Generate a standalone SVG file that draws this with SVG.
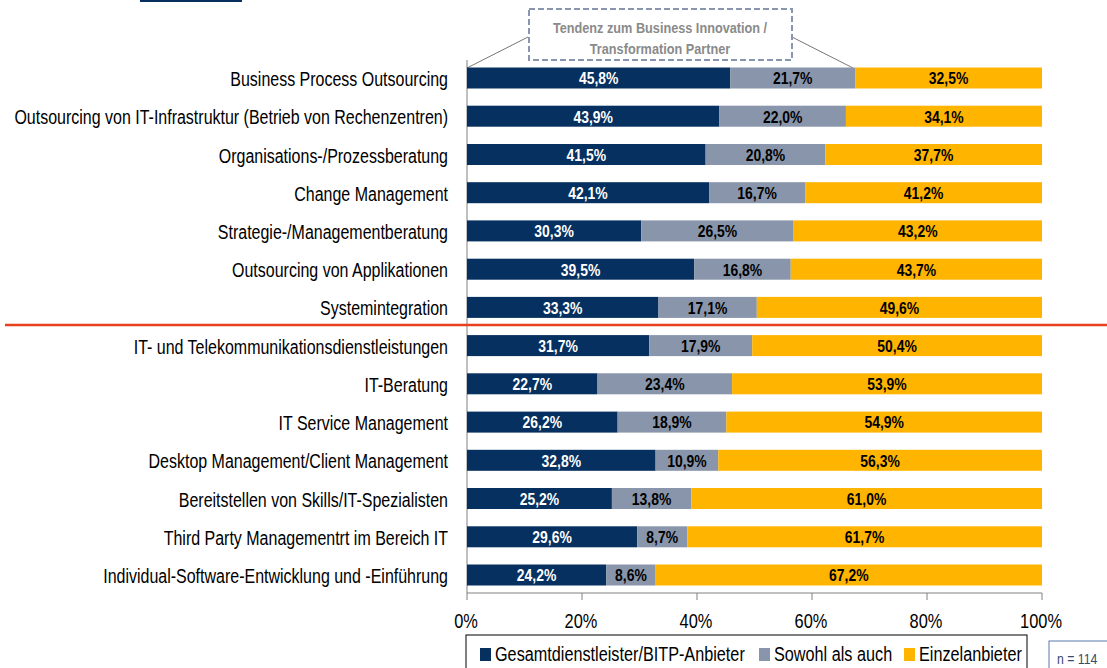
<svg xmlns="http://www.w3.org/2000/svg" width="1107" height="668" viewBox="0 0 1107 668">
<style>
text{font-family:"Liberation Sans Narrow","Arial Narrow","Liberation Sans",Arial,sans-serif}
.lbl{font-size:19.5px;fill:#000;text-anchor:end}
.val{font-size:17px;font-weight:bold;text-anchor:middle}
.w{fill:#fff}.k{fill:#000}
.d{fill:#06305f}.g{fill:#8895aa}.y{fill:#ffb400}
.tick{font-size:20px;fill:#000;text-anchor:middle}
.leg{font-size:19.8px;fill:#000}
.call{font-size:15.5px;font-weight:bold;fill:#8a8a8a;text-anchor:middle}
</style>
<rect x="140" y="0" width="102" height="2" fill="#06305f"/>
<g id="axes" stroke="#808080" stroke-width="1">
<line x1="467" y1="60" x2="467" y2="593"/>
<line x1="467" y1="593" x2="1042" y2="593"/>
<line x1="467" y1="593" x2="467" y2="600"/>
<line x1="582" y1="593" x2="582" y2="600"/>
<line x1="697" y1="593" x2="697" y2="600"/>
<line x1="812" y1="593" x2="812" y2="600"/>
<line x1="927" y1="593" x2="927" y2="600"/>
<line x1="1042" y1="593" x2="1042" y2="600"/>
</g>
<g id="ticks">
<text class="tick" transform="translate(466 628) scale(0.82 1)">0%</text>
<text class="tick" transform="translate(581 628) scale(0.82 1)">20%</text>
<text class="tick" transform="translate(696 628) scale(0.82 1)">40%</text>
<text class="tick" transform="translate(811 628) scale(0.82 1)">60%</text>
<text class="tick" transform="translate(926 628) scale(0.82 1)">80%</text>
<text class="tick" transform="translate(1041 628) scale(0.82 1)">100%</text>
</g>
<g id="connectors" stroke="#777" stroke-width="1" fill="none">
<line x1="528" y1="37" x2="467" y2="68"/>
<line x1="792" y1="37" x2="853" y2="68"/>
</g>
<g id="callout">
<rect x="529" y="9" width="263" height="51" fill="#fff" stroke="#8896b0" stroke-width="2" stroke-dasharray="6,3"/>
<text class="call" transform="translate(660 32.5) scale(0.82 1)">Tendenz zum Business Innovation /</text>
<text class="call" transform="translate(660 54) scale(0.82 1)">Transformation Partner</text>
</g>
<line id="separator" x1="5" y1="325" x2="1107" y2="325" stroke="#e8401c" stroke-width="2.5"/>
<g id="row1"><text class="lbl" transform="translate(448 86) scale(0.82 1)">Business Process Outsourcing</text>
<rect class="d" x="467" y="67.5" width="263.35" height="21"/><rect class="g" x="730.35" y="67.5" width="124.78" height="21"/><rect class="y" x="855.13" y="67.5" width="186.87" height="21"/>
<text class="val w" transform="translate(598.7 84.3) scale(0.82 1)">45,8%</text><text class="val k" transform="translate(792.7 84.3) scale(0.82 1)">21,7%</text><text class="val k" transform="translate(948.6 84.3) scale(0.82 1)">32,5%</text></g>
<g id="row2"><text class="lbl" transform="translate(448 124.2) scale(0.82 1)">Outsourcing von IT-Infrastruktur (Betrieb von Rechenzentren)</text>
<rect class="d" x="467" y="105.7" width="252.43" height="21"/><rect class="g" x="719.43" y="105.7" width="126.5" height="21"/><rect class="y" x="845.93" y="105.7" width="196.07" height="21"/>
<text class="val w" transform="translate(593.2 122.5) scale(0.82 1)">43,9%</text><text class="val k" transform="translate(782.7 122.5) scale(0.82 1)">22,0%</text><text class="val k" transform="translate(944 122.5) scale(0.82 1)">34,1%</text></g>
<g id="row3"><text class="lbl" transform="translate(448 162.5) scale(0.82 1)">Organisations-/Prozessberatung</text>
<rect class="d" x="467" y="144" width="238.63" height="21"/><rect class="g" x="705.63" y="144" width="119.6" height="21"/><rect class="y" x="825.23" y="144" width="216.77" height="21"/>
<text class="val w" transform="translate(586.3 160.8) scale(0.82 1)">41,5%</text><text class="val k" transform="translate(765.4 160.8) scale(0.82 1)">20,8%</text><text class="val k" transform="translate(933.6 160.8) scale(0.82 1)">37,7%</text></g>
<g id="row4"><text class="lbl" transform="translate(448 200.7) scale(0.82 1)">Change Management</text>
<rect class="d" x="467" y="182.2" width="242.08" height="21"/><rect class="g" x="709.08" y="182.2" width="96.03" height="21"/><rect class="y" x="805.11" y="182.2" width="236.89" height="21"/>
<text class="val w" transform="translate(588 199) scale(0.82 1)">42,1%</text><text class="val k" transform="translate(757.1 199) scale(0.82 1)">16,7%</text><text class="val k" transform="translate(923.6 199) scale(0.82 1)">41,2%</text></g>
<g id="row5"><text class="lbl" transform="translate(448 238.9) scale(0.82 1)">Strategie-/Managementberatung</text>
<rect class="d" x="467" y="220.4" width="174.23" height="21"/><rect class="g" x="641.23" y="220.4" width="152.38" height="21"/><rect class="y" x="793.61" y="220.4" width="248.39" height="21"/>
<text class="val w" transform="translate(554.1 237.2) scale(0.82 1)">30,3%</text><text class="val k" transform="translate(717.4 237.2) scale(0.82 1)">26,5%</text><text class="val k" transform="translate(917.8 237.2) scale(0.82 1)">43,2%</text></g>
<g id="row6"><text class="lbl" transform="translate(448 277.2) scale(0.82 1)">Outsourcing von Applikationen</text>
<rect class="d" x="467" y="258.7" width="227.13" height="21"/><rect class="g" x="694.13" y="258.7" width="96.6" height="21"/><rect class="y" x="790.73" y="258.7" width="251.27" height="21"/>
<text class="val w" transform="translate(580.6 275.5) scale(0.82 1)">39,5%</text><text class="val k" transform="translate(742.4 275.5) scale(0.82 1)">16,8%</text><text class="val k" transform="translate(916.4 275.5) scale(0.82 1)">43,7%</text></g>
<g id="row7"><text class="lbl" transform="translate(448 315.4) scale(0.82 1)">Systemintegration</text>
<rect class="d" x="467" y="296.9" width="191.48" height="21"/><rect class="g" x="658.48" y="296.9" width="98.33" height="21"/><rect class="y" x="756.81" y="296.9" width="285.19" height="21"/>
<text class="val w" transform="translate(562.7 313.7) scale(0.82 1)">33,3%</text><text class="val k" transform="translate(707.6 313.7) scale(0.82 1)">17,1%</text><text class="val k" transform="translate(899.4 313.7) scale(0.82 1)">49,6%</text></g>
<g id="row8"><text class="lbl" transform="translate(448 353.6) scale(0.82 1)">IT- und Telekommunikationsdienstleistungen</text>
<rect class="d" x="467" y="335.1" width="182.28" height="21"/><rect class="g" x="649.28" y="335.1" width="102.93" height="21"/><rect class="y" x="752.21" y="335.1" width="289.79" height="21"/>
<text class="val w" transform="translate(558.1 351.9) scale(0.82 1)">31,7%</text><text class="val k" transform="translate(700.7 351.9) scale(0.82 1)">17,9%</text><text class="val k" transform="translate(897.1 351.9) scale(0.82 1)">50,4%</text></g>
<g id="row9"><text class="lbl" transform="translate(448 391.8) scale(0.82 1)">IT-Beratung</text>
<rect class="d" x="467" y="373.3" width="130.53" height="21"/><rect class="g" x="597.53" y="373.3" width="134.55" height="21"/><rect class="y" x="732.08" y="373.3" width="309.92" height="21"/>
<text class="val w" transform="translate(532.3 390.1) scale(0.82 1)">22,7%</text><text class="val k" transform="translate(664.8 390.1) scale(0.82 1)">23,4%</text><text class="val k" transform="translate(887 390.1) scale(0.82 1)">53,9%</text></g>
<g id="row10"><text class="lbl" transform="translate(448 430.1) scale(0.82 1)">IT Service Management</text>
<rect class="d" x="467" y="411.6" width="150.65" height="21"/><rect class="g" x="617.65" y="411.6" width="108.68" height="21"/><rect class="y" x="726.33" y="411.6" width="315.67" height="21"/>
<text class="val w" transform="translate(542.3 428.4) scale(0.82 1)">26,2%</text><text class="val k" transform="translate(672 428.4) scale(0.82 1)">18,9%</text><text class="val k" transform="translate(884.2 428.4) scale(0.82 1)">54,9%</text></g>
<g id="row11"><text class="lbl" transform="translate(448 468.3) scale(0.82 1)">Desktop Management/Client Management</text>
<rect class="d" x="467" y="449.8" width="188.6" height="21"/><rect class="g" x="655.6" y="449.8" width="62.68" height="21"/><rect class="y" x="718.28" y="449.8" width="323.72" height="21"/>
<text class="val w" transform="translate(561.3 466.6) scale(0.82 1)">32,8%</text><text class="val k" transform="translate(686.9 466.6) scale(0.82 1)">10,9%</text><text class="val k" transform="translate(880.1 466.6) scale(0.82 1)">56,3%</text></g>
<g id="row12"><text class="lbl" transform="translate(448 506.5) scale(0.82 1)">Bereitstellen von Skills/IT-Spezialisten</text>
<rect class="d" x="467" y="488" width="144.9" height="21"/><rect class="g" x="611.9" y="488" width="79.35" height="21"/><rect class="y" x="691.25" y="488" width="350.75" height="21"/>
<text class="val w" transform="translate(539.5 504.8) scale(0.82 1)">25,2%</text><text class="val k" transform="translate(651.6 504.8) scale(0.82 1)">13,8%</text><text class="val k" transform="translate(866.6 504.8) scale(0.82 1)">61,0%</text></g>
<g id="row13"><text class="lbl" transform="translate(448 544.8) scale(0.82 1)">Third Party Managementrt  im Bereich IT</text>
<rect class="d" x="467" y="526.3" width="170.2" height="21"/><rect class="g" x="637.2" y="526.3" width="50.03" height="21"/><rect class="y" x="687.23" y="526.3" width="354.77" height="21"/>
<text class="val w" transform="translate(552.1 543.1) scale(0.82 1)">29,6%</text><text class="val k" transform="translate(662.2 543.1) scale(0.82 1)">8,7%</text><text class="val k" transform="translate(864.6 543.1) scale(0.82 1)">61,7%</text></g>
<g id="row14"><text class="lbl" transform="translate(448 583) scale(0.82 1)">Individual-Software-Entwicklung und -Einführung</text>
<rect class="d" x="467" y="564.5" width="139.15" height="21"/><rect class="g" x="606.15" y="564.5" width="49.45" height="21"/><rect class="y" x="655.6" y="564.5" width="386.4" height="21"/>
<text class="val w" transform="translate(536.6 581.3) scale(0.82 1)">24,2%</text><text class="val k" transform="translate(630.9 581.3) scale(0.82 1)">8,6%</text><text class="val k" transform="translate(848.8 581.3) scale(0.82 1)">67,2%</text></g>
<g id="legend">
<rect x="466" y="635" width="561" height="40" fill="#fff" stroke="#000" stroke-width="1"/>
<rect class="d" x="480" y="648" width="11" height="13"/>
<text class="leg" transform="translate(495 661) scale(0.82 1)">Gesamtdienstleister/BITP-Anbieter</text>
<rect class="g" x="759" y="648" width="11" height="13"/>
<text class="leg" transform="translate(774 661) scale(0.82 1)">Sowohl als auch</text>
<rect class="y" x="904" y="648" width="11" height="13"/>
<text class="leg" transform="translate(919 661) scale(0.82 1)">Einzelanbieter</text>
</g>
<g id="sample">
<rect x="1049" y="641" width="62" height="32" fill="#fff" stroke="#5b7bb0" stroke-width="1"/>
<text transform="translate(1057 664) scale(0.82 1)" font-size="15" fill="#3a4a6a">n = 114</text>
</g>
</svg>
